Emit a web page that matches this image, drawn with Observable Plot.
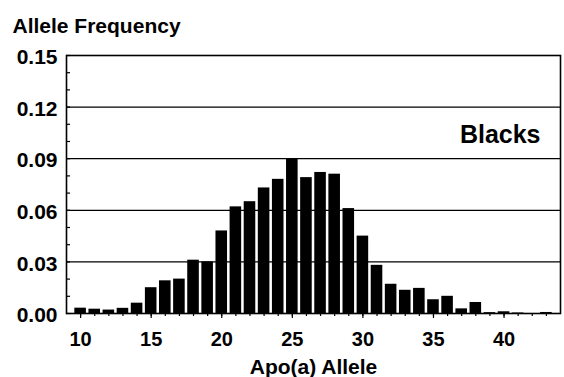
<!DOCTYPE html>
<html>
<head>
<meta charset="utf-8">
<script src="https://cdn.jsdelivr.net/npm/d3@7"></script>
<script src="https://cdn.jsdelivr.net/npm/@observablehq/plot@0.6"></script>
<style>
  html, body { margin: 0; padding: 0; background: #fff; }
  svg { display: block; }
</style>
</head>
<body>
<div id="chart"></div>
<script>
// Apo(a) allele numbers and their frequencies (Blacks)
const alleles = [10, 11, 12, 13, 14, 15, 16, 17, 18, 19, 20, 21, 22, 23, 24, 25, 26,
                 27, 28, 29, 30, 31, 32, 33, 34, 35, 36, 37, 38, 39, 40, 41, 42, 43];
const frequencies = [0.0031, 0.0025, 0.002, 0.003, 0.006, 0.015, 0.019, 0.020, 0.031, 0.030,
                     0.048, 0.062, 0.065, 0.073, 0.078, 0.090, 0.079, 0.082, 0.081, 0.061,
                     0.045, 0.028, 0.017, 0.0135, 0.0146, 0.008, 0.010, 0.0027, 0.0064, 0.0005,
                     0.001, 0.0003, 0, 0.0006];
const xTickLabels = [10, 15, 20, 25, 30, 35, 40];
const yTickLabels = [0, 0.03, 0.06, 0.09, 0.12, 0.15];
const yMinorTicks = [0, 0.01, 0.02, 0.03, 0.04, 0.05, 0.06, 0.07, 0.08, 0.09, 0.10, 0.11, 0.12, 0.13, 0.14, 0.15];
const xMinorTicks = alleles;
const titleText = "Allele Frequency";
const xLabelText = "Apo(a) Allele";
const groupText = "Blacks";

const data = alleles.map((a, i) => ({allele: a, freq: frequencies[i]}));
const font = "'Liberation Sans', Arial, sans-serif";

const chart = Plot.plot({
  width: 564,
  height: 377,
  marginLeft: 66,
  marginRight: 4,
  marginTop: 55,
  marginBottom: 64,
  style: {fontFamily: font, background: "#fff", color: "#000", overflow: "visible"},
  x: {domain: [9, 44]},
  y: {domain: [0, 0.15]},
  marks: [
    Plot.ruleY(yTickLabels.slice(1, -1), {stroke: "#000", strokeWidth: 1.2}),
    Plot.rectY(data, {
      x1: d => d.allele - 0.41,
      x2: d => d.allele + 0.41,
      y: "freq",
      fill: "#000"
    }),
    Plot.frame({stroke: "#000", strokeWidth: 1.6}),
    // minor x ticks (outward)
    Plot.axisX({ticks: xMinorTicks, tickSize: 3, tickFormat: () => "", label: null, strokeWidth: 1.2}),
    // major x ticks + labels
    Plot.axisX({ticks: xTickLabels, tickSize: 5, tickPadding: 13, label: null,
      fontSize: 20, fontWeight: "bold", strokeWidth: 1.2, tickFormat: d => String(d)}),
    // minor y ticks (inward)
    Plot.axisY({ticks: yMinorTicks, tickSize: -4, tickFormat: () => "", label: null, strokeWidth: 1.2}),
    // y labels
    Plot.axisY({ticks: yTickLabels, tickSize: 0, tickPadding: 9, label: null,
      fontSize: 21, fontWeight: "bold", dy: 2, tickFormat: d => d.toFixed(2)}),
    Plot.text([titleText], {frameAnchor: "top-left", textAnchor: "start", lineAnchor: "middle",
      dx: -54, dy: -29, fontSize: 21, fontWeight: "bold", fill: "#000"}),
    Plot.text([xLabelText], {frameAnchor: "bottom", textAnchor: "middle", lineAnchor: "middle",
      dy: 54, fontSize: 21, fontWeight: "bold", fill: "#000"}),
    Plot.text([groupText], {frameAnchor: "top-right", textAnchor: "end", lineAnchor: "middle",
      dx: -20, dy: 79, fontSize: 25, fontWeight: "bold", fill: "#000"})
  ]
});
document.getElementById("chart").appendChild(chart);
</script>
</body>
</html>
